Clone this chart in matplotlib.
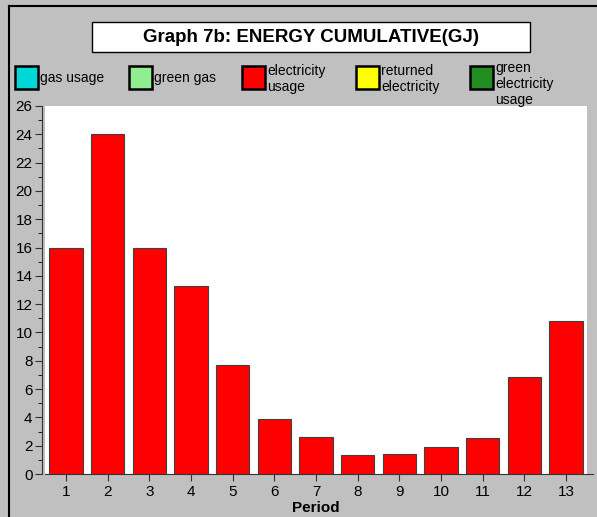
import matplotlib
matplotlib.use("Agg")
import matplotlib.pyplot as plt
from matplotlib.patches import Rectangle
from matplotlib.lines import Line2D

plt.rcParams['font.family'] = ['Liberation Sans', 'DejaVu Sans']

periods = [1, 2, 3, 4, 5, 6, 7, 8, 9, 10, 11, 12, 13]
electricity_usage = [16.0, 24.05, 16.0, 13.3, 7.7, 3.9, 2.6, 1.35, 1.4, 1.9, 2.55, 6.85, 10.8]
title = "Graph 7b: ENERGY CUMULATIVE(GJ)"
legend_labels = ["gas usage", "green gas", "electricity\nusage", "returned\nelectricity", "green\nelectricity\nusage"]
legend_colors = ["#00d8d8", "#90ee90", "#ff0000", "#ffff00", "#228b22"]
y_ticks = list(range(0, 27, 2))

W, H = 597, 517
fig = plt.figure(figsize=(W / 100, H / 100), dpi=100)
fig.patch.set_facecolor("#c0c0c0")

def fx(px):
    return px / W

def fy(py):
    return 1 - py / H

# outer frame lines (left and top)
fig.add_artist(Line2D([fx(8.5), fx(8.5)], [fy(5.5), 0], color="black", lw=1.5, transform=fig.transFigure))
fig.add_artist(Line2D([fx(8.5), 1], [fy(5.5), fy(5.5)], color="black", lw=1.5, transform=fig.transFigure))

# title box
fig.add_artist(Rectangle((fx(92), fy(52)), fx(530) - fx(92), fy(22) - fy(52),
                         transform=fig.transFigure, facecolor="white", edgecolor="black", lw=1))
fig.text(fx(311), fy(37), title, ha="center", va="center", fontsize=13.5, fontweight="bold")

# legend
leg_x = [15, 129, 242, 356, 470]
leg_text_y = [78, 78, 79, 79, 84]
for x0, ty, lab, col in zip(leg_x, leg_text_y, legend_labels, legend_colors):
    fig.add_artist(Rectangle((fx(x0), fy(89)), fx(23), fy(66) - fy(89),
                             transform=fig.transFigure, facecolor=col, edgecolor="black", lw=1.8))
    fig.text(fx(x0 + 25), fy(ty), lab, ha="left", va="center", fontsize=10, linespacing=1.15)

ax = fig.add_axes([fx(45), fy(474), fx(587) - fx(45), fy(106) - fy(474)])
ax.set_facecolor("white")
ax.bar(periods, electricity_usage, width=0.8, color="#ff0000", edgecolor="#404040", linewidth=0.8, zorder=3)
ax.set_xlim(0.5, 13.5)
ax.set_ylim(0, 26)
ax.set_xticks(periods)
ax.set_yticks(y_ticks)
ax.set_yticks(range(0, 27), minor=True)
ax.tick_params(axis="both", labelsize=11, direction="out", color="#333333")
ax.tick_params(axis="y", which="major", length=5, pad=2)
ax.tick_params(axis="y", which="minor", length=3)
ax.tick_params(axis="x", length=5, pad=3)
for s in ["top", "right"]:
    ax.spines[s].set_visible(False)
ax.spines["left"].set_position(("outward", 2))
ax.spines["left"].set_color("#333333")
ax.spines["bottom"].set_color("#333333")
ax.add_line(Line2D([1.0, (593 - 45) / (587 - 45)], [0, 0], transform=ax.transAxes,
                   color="#333333", lw=0.8, clip_on=False))
ax.set_xlabel("Period", fontsize=11, fontweight="bold", labelpad=1)

fig.savefig("out.png", dpi=100, facecolor=fig.get_facecolor())
